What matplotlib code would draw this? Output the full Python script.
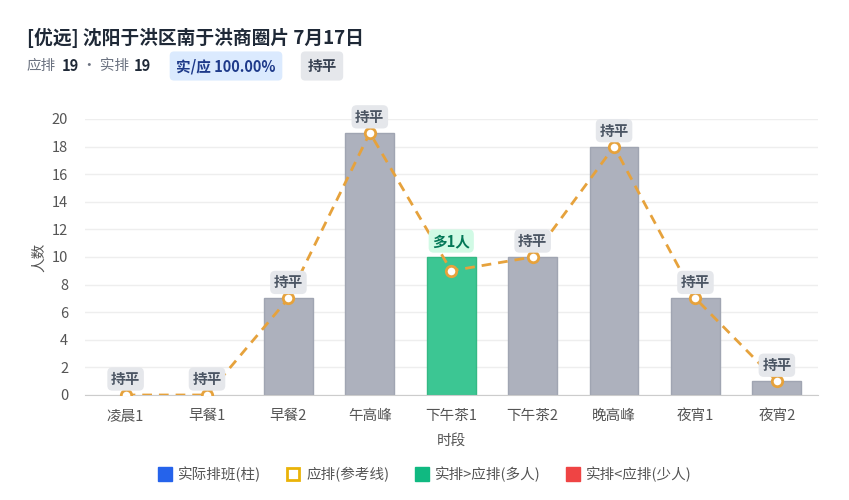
import matplotlib.pyplot as plt
from matplotlib.lines import Line2D

plt.rcParams['font.family'] = ['Noto Sans CJK SC', 'DejaVu Sans']

# data
slots = ["凌晨1", "早餐1", "早餐2", "午高峰", "下午茶1", "下午茶2", "晚高峰", "夜宵1", "夜宵2"]
actual = [0, 0, 7, 19, 10, 10, 18, 7, 1]
planned = [0, 0, 7, 19, 9, 10, 18, 7, 1]
tags = ["持平", "持平", "持平", "持平", "多1人", "持平", "持平", "持平", "持平"]

GRAY = "#adb1bd"
GREEN = "#3cc693"
ORANGE = "#e6a23c"

fig = plt.figure(figsize=(8.49, 5), dpi=100)
ax = fig.add_axes([0.1, 0.21, 0.863, 0.552])

x = range(len(slots))
colors = []
edges = []
for a, p in zip(actual, planned):
    if a > p:
        colors.append(GREEN)
        edges.append("#34b984")
    elif a < p:
        colors.append("#ef4444")
        edges.append("#dc2626")
    else:
        colors.append(GRAY)
        edges.append("#a0a5b2")
bars = ax.bar(x, actual, width=0.6, color=colors, edgecolor=edges, linewidth=1, zorder=2)
for b, a in zip(bars, actual):
    if a == 0:
        b.set_visible(False)

ax.plot(x, planned, color=ORANGE, linestyle=(0, (3.5, 2.5)), linewidth=2, zorder=3,
        marker="o", markersize=7.5, markerfacecolor="white", markeredgecolor=ORANGE,
        markeredgewidth=2)

# tags above
for i, (a, p, t) in enumerate(zip(actual, planned, tags)):
    top = max(a, p)
    if t == "持平":
        fc, tc = "#e5e7eb", "#4b5563"
    elif t.startswith("多"):
        fc, tc = "#d1fae5", "#047857"
    else:
        fc, tc = "#fee2e2", "#b91c1c"
    ax.annotate(t, (i, top), xytext=(0, 11.5), textcoords="offset points",
                ha="center", va="center", fontsize=10.5, fontweight="bold", color=tc,
                bbox=dict(boxstyle="round,pad=0.25,rounding_size=0.35", fc=fc, ec="none"),
                zorder=5)

ax.set_xlim(-0.5, len(slots) - 0.5)
ax.set_ylim(0, 20)
ax.set_yticks(range(0, 21, 2))
ax.set_xticks(list(x))
ax.set_xticklabels(slots)
ax.tick_params(axis="both", length=0, labelsize=10.5, colors="#555555")
ax.tick_params(axis="x", pad=10)
ax.tick_params(axis="y", pad=12)
ax.grid(axis="y", color="#eeeeee", linewidth=1, zorder=0)
for s in ["top", "right", "left"]:
    ax.spines[s].set_visible(False)
ax.spines["bottom"].set_color("#cccccc")
ax.set_xlabel("时段", fontsize=10.5, color="#555555", labelpad=8)
ax.set_ylabel("人数", fontsize=10.5, color="#555555", labelpad=4)

# header
fig.text(27 / 849, 1 - 38 / 500, "[优远] 沈阳于洪区南于洪商圈片 7月17日", fontsize=13.5,
         fontweight="bold", color="#1f2937", va="center")
yy = 1 - 66 / 500
fig.text(27 / 849, yy, "应排", fontsize=10.5, color="#6b7280", va="center")
fig.text(62 / 849, yy, "19", fontsize=10.5, fontweight="bold", color="#1f2937", va="center")
fig.text(82 / 849, yy, "· 实排", fontsize=10.5, color="#6b7280", va="center")
fig.text(134 / 849, yy, "19", fontsize=10.5, fontweight="bold", color="#1f2937", va="center")
fig.text(226 / 849, yy, "实/应 100.00%", fontsize=10.5, fontweight="bold", color="#1e3a8a",
         va="center", ha="center",
         bbox=dict(boxstyle="round,pad=0.45,rounding_size=0.3", fc="#dbeafe", ec="none"))
fig.text(322 / 849, yy, "持平", fontsize=10.5, fontweight="bold", color="#374151",
         va="center", ha="center",
         bbox=dict(boxstyle="round,pad=0.45,rounding_size=0.3", fc="#e5e7eb", ec="none"))

# legend
handles = [
    Line2D([], [], marker="s", linestyle="none", markersize=10, markerfacecolor="#2563eb",
           markeredgecolor="#2563eb"),
    Line2D([], [], marker="s", linestyle="none", markersize=9, markerfacecolor="white",
           markeredgecolor="#eab308", markeredgewidth=2),
    Line2D([], [], marker="s", linestyle="none", markersize=10, markerfacecolor="#10b981",
           markeredgecolor="#10b981"),
    Line2D([], [], marker="s", linestyle="none", markersize=10, markerfacecolor="#ef4444",
           markeredgecolor="#ef4444"),
]
labels = ["实际排班(柱)", "应排(参考线)", "实排>应排(多人)", "实排<应排(少人)"]
fig.legend(handles, labels, loc="center", bbox_to_anchor=(0.5, 1 - 474 / 500), ncol=4,
           frameon=False, fontsize=10.5, labelcolor="#555555", handletextpad=0.4,
           columnspacing=1.7, handlelength=1.0)

fig.savefig("out.png", dpi=100, facecolor="white")
